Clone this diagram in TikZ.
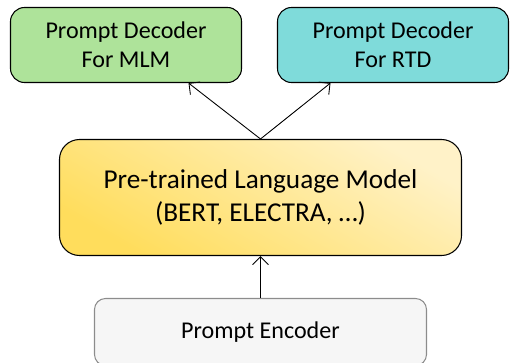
\documentclass[tikz,border=0pt]{standalone}
\usepackage{fontspec}
\setmainfont{Carlito}
\usepackage{tikz}
\usetikzlibrary{arrows.meta}
\definecolor{mlmgreen}{HTML}{AEE39A}
\definecolor{rtdcyan}{HTML}{7FDBDA}
\definecolor{lmdark}{HTML}{FFDD5C}
\definecolor{lmlight}{HTML}{FFF2C8}
\definecolor{encfill}{HTML}{F6F6F6}
\definecolor{encline}{HTML}{8C8C8C}
\tikzset{
	decbox/.style={draw=black, line width=0.6pt, rounded corners=0.28cm, minimum width=4.62cm, minimum height=1.5cm, align=center, font=\fontsize{13.7}{16.3}\selectfont},
	lmbox/.style={draw=black, line width=0.6pt, rounded corners=0.4cm, minimum width=8.04cm, minimum height=2.32cm, align=center, font=\fontsize{15.5}{18.6}\selectfont, shading=axis, top color=lmlight, bottom color=lmdark, shading angle=-30},
	encbox/.style={draw=encline, line width=0.6pt, fill=encfill, rounded corners=0.22cm, minimum width=6.64cm, minimum height=1.34cm, font=\fontsize{13.7}{16.3}\selectfont},
	arr/.style={-{Straight Barb[length=1.6mm, width=3.2mm]}, line width=0.5pt}
}

\begin{document}
\begin{tikzpicture}
		%%%%% START %%%%%
		
		\useasboundingbox (0, 0) rectangle (10.2, 7.24);
		
		\node[decbox, fill=mlmgreen] (mlm) at (2.52, 6.34) {Prompt Decoder\\For MLM};
		\node[decbox, fill=rtdcyan] (rtd) at (7.86, 6.34) {Prompt Decoder\\For RTD};
		
		\node[lmbox] (plm) at (5.21, 3.29) {Pre-trained Language Model\\(BERT, ELECTRA, \dots)};
		
		\node[encbox] (enc) at (5.21, 0.6) {Prompt Encoder};
		
		\coordinate (split) at (plm.north);
		\draw[arr] (split) -- ([xshift=1.25cm]mlm.south);
		\draw[arr] (split) -- ([xshift=-1.25cm]rtd.south);
		\draw[arr] (enc.north) -- (plm.south);
		
		%%%%% END %%%%%
	\end{tikzpicture}
\end{document}
